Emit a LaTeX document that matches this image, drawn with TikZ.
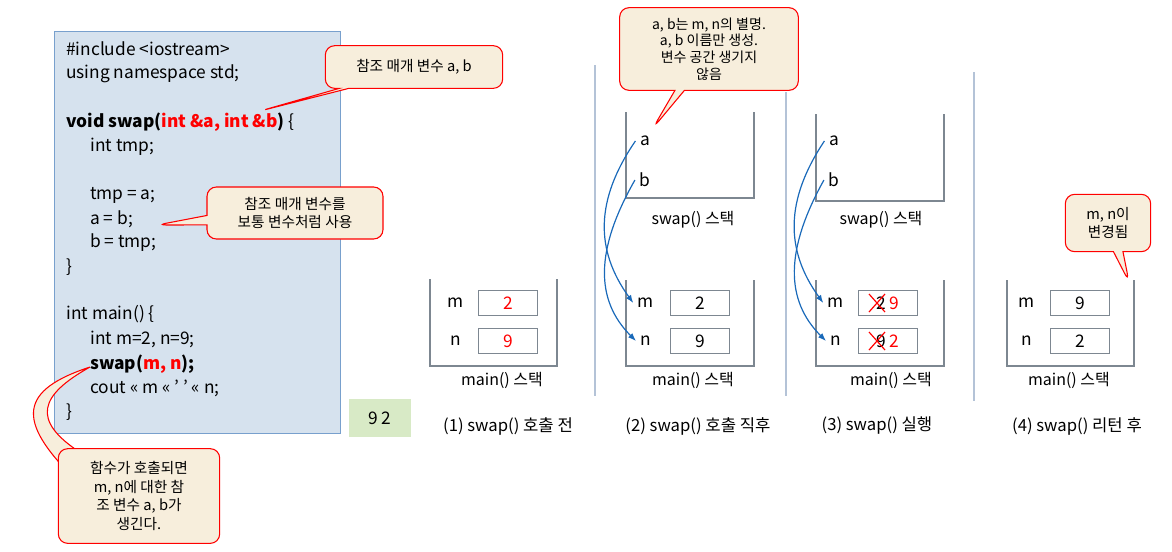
\documentclass[tikz,border=0pt]{standalone}
\usepackage{fontspec}
\setmainfont{Noto Sans CJK KR}
\usetikzlibrary{positioning,shapes.callouts,arrows.meta}
\definecolor{codecolor}{RGB}{214,226,238}
\definecolor{codeedge}{RGB}{120,160,205}
\definecolor{notecolor}{RGB}{247,238,220}
\definecolor{outcolor}{RGB}{216,234,198}
\definecolor{stackedge}{RGB}{125,135,145}
\definecolor{refcolor}{RGB}{25,105,185}
\definecolor{sepcolor}{RGB}{180,195,215}

\begin{document}
\begin{tikzpicture}[x=0.75pt,y=-0.75pt,
		% Text styles
		code/.style={anchor=west, inner sep=0pt, font=\fontsize{13}{15}\selectfont},
		lbl/.style={font=\fontsize{12}{14}\selectfont},
		caption/.style={font=\fontsize{12.5}{15}\selectfont},
		% Note styles
		note/.style={rectangle callout, rounded corners=7pt, draw=red, fill=notecolor,
			line width=0.8pt, align=center, font=\fontsize{11}{13}\selectfont, inner sep=2pt},
		% Stack styles
		stack/.style={draw=stackedge, line width=1.2pt},
		cell/.style={draw=stackedge, line width=1pt, minimum width=44pt, minimum height=19pt,
			font=\fontsize{13}{15}\selectfont},
		var/.style={font=\fontsize{13}{15}\selectfont},
		ref/.style={-{Latex[length=6pt]}, draw=refcolor, line width=0.9pt},
		sep/.style={draw=sepcolor, line width=1pt}
		]
		\useasboundingbox (0,0) rectangle (1172,551);
		
		% Code box
		\node[draw=codeedge, fill=codecolor, line width=0.8pt, minimum width=214.5pt, minimum height=301.5pt,
			anchor=north west, inner sep=0pt] (codebox) at (54,31) {};
		\node[code] (l1) at (66,49) {\#include <iostream>};
		\node[code] (l2) at (66,74) {using namespace std;};
		\node[code] (l3) at (66,122) {\textbf{void swap(}\textcolor{red}{\textbf{int \&a, int \&b}}\textbf{)} \{};
		\node[code] (l4) at (90,147) {int tmp;};
		\node[code] (l5) at (90,195) {tmp = a;};
		\node[code] (l6) at (90,219) {a = b;};
		\node[code] (l7) at (90,243) {b = tmp;};
		\node[code] (l8) at (66,267) {\}};
		\node[code] (l9) at (66,314) {int main() \{};
		\node[code] (l10) at (90,339) {int m=2, n=9;};
		\node[code] (l11) at (90,364) {\textbf{swap(}\textcolor{red}{\textbf{m, n}}\textbf{);}};
		\node[code] (l12) at (90,388) {cout << m << ' ' << n;};
		\node[code] (l13) at (66,412) {\}};
		
		% Output
		\node[fill=outcolor, minimum width=47pt, minimum height=28pt, font=\fontsize{13}{15}\selectfont] (out) at (380,418) {9 2};
		
		% Notes on the code
		\node[note, minimum width=133pt, minimum height=32pt, callout absolute pointer={(260,111)}] (param) at (414,67) {참조 매개 변수 a, b};
		\node[note, minimum width=132pt, minimum height=39pt, callout absolute pointer={(157,225)}] (use) at (295,213) {참조 매개 변수를\\보통 변수처럼 사용};
		\fill[notecolor, draw=red, line width=0.8pt] (75,479) .. controls (15,420) and (20,390) .. (90,367)
			.. controls (40,395) and (30,420) .. (81,453) -- cycle;
		\node[note, rectangle, minimum width=121pt, minimum height=71pt, font=\fontsize{11}{14}\selectfont] (call) at (139,496) {함수가 호출되면\\m, n에 대한 참\\조 변수 a, b가\\생긴다.};
		
		% Separators
		\draw[sep] (595,65) -- (595,396);
		\draw[sep] (786,92) -- (786,396);
		\draw[sep] (974,72) -- (974,401);
		
		% (1) before the call
		\draw[stack] (430,279) |- (557,366) -- (557,279);
		\node[var] (m1) at (456,303) {m};
		\node[cell, text=red] (cm1) at (508,303) {2};
		\node[var] (n1) at (456,341) {n};
		\node[cell, text=red] (cn1) at (508,341) {9};
		\node[lbl] (main1) at (502,380) {main() 스택};
		\node[caption] (cap1) at (508,426) {(1) swap() 호출 전};
		
		% (2) right after the call
		\draw[stack] (626,112) |- (754,198) -- (754,112);
		\node[var] (a2) at (645,141) {a};
		\node[var] (b2) at (645,180) {b};
		\node[lbl] (swap2) at (693,220) {swap() 스택};
		\draw[stack] (626,280) |- (754,366) -- (754,280);
		\node[var] (m2) at (646,303) {m};
		\node[cell] (cm2) at (700,303) {2};
		\node[var] (n2) at (646,341) {n};
		\node[cell] (cn2) at (700,341) {9};
		\node[lbl] (main2) at (693,380) {main() 스택};
		\node[caption] (cap2) at (698,426) {(2) swap() 호출 직후};
		\draw[ref] (a2.west) .. controls (595,200) and (595,250) .. (m2.west);
		\draw[ref] (b2.west) .. controls (595,250) and (595,300) .. (n2.west);
		\node[note, minimum width=134pt, minimum height=62pt, font=\fontsize{10.5}{12.5}\selectfont,
			callout absolute pointer={(653,128)}] (alias) at (709,49) {a, b는 m, n의 별명.\\a, b 이름만 생성.\\변수 공간 생기지\\않음};
		
		% (3) swap running
		\draw[stack] (816,114) |- (944,201) -- (944,114);
		\node[var] (a3) at (834,141) {a};
		\node[var] (b3) at (834,180) {b};
		\node[lbl] (swap3) at (881,220) {swap() 스택};
		\draw[stack] (816,280) |- (944,366) -- (944,280);
		\node[var] (m3) at (836,303) {m};
		\node[cell, text=red] (cm3) at (888,303) {\textcolor{black}{2}\,9};
		\node[var] (n3) at (836,341) {n};
		\node[cell, text=red] (cn3) at (888,341) {\textcolor{black}{9}\,2};
		\draw[red, line width=0.9pt] (869,294) -- (885,312) (869,312) -- (885,294);
		\draw[red, line width=0.9pt] (869,332) -- (885,350) (869,350) -- (885,332);
		\node[lbl] (main3) at (891,380) {main() 스택};
		\node[caption] (cap3) at (877,426) {(3) swap() 실행};
		\draw[ref] (a3.west) .. controls (785,200) and (785,250) .. (m3.west);
		\draw[ref] (b3.west) .. controls (785,250) and (785,300) .. (n3.west);
		
		% (4) after the return
		\draw[stack] (1007,280) |- (1134,366) -- (1134,280);
		\node[var] (m4) at (1027,303) {m};
		\node[cell] (cm4) at (1080,303) {9};
		\node[var] (n4) at (1027,341) {n};
		\node[cell] (cn4) at (1080,341) {2};
		\node[lbl] (main4) at (1069,380) {main() 스택};
		\node[caption] (cap4) at (1077,426) {(4) swap() 리턴 후};
		\node[note, minimum width=64pt, minimum height=43pt, callout absolute pointer={(1129,282)}] (changed) at (1108,223) {m, n이\\변경됨};
		
	\end{tikzpicture}
\end{document}
